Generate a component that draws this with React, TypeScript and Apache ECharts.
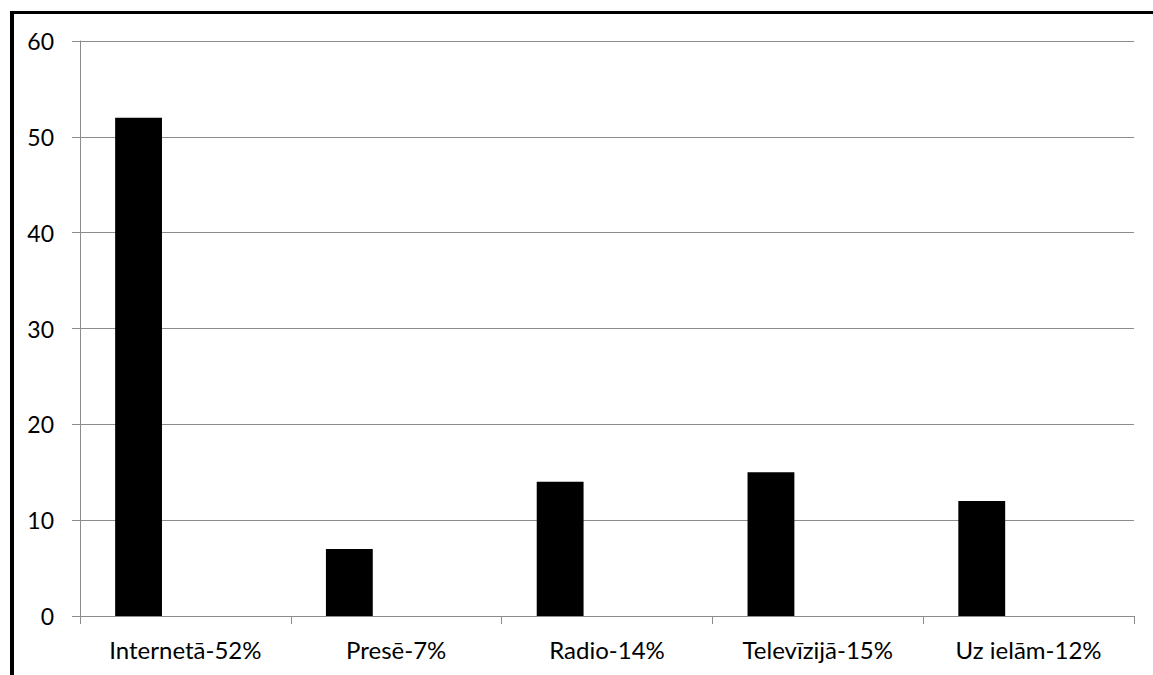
import React, { useEffect, useRef } from "react";
import * as echarts from "echarts";

const categories = ["Internetā-52%", "Presē-7%", "Radio-14%", "Televīzijā-15%", "Uz ielām-12%"];
const values = [52, 7, 14, 15, 12];
const emptyA: number[] = [];
const emptyB: number[] = [];
const yTicks = { min: 0, max: 60, interval: 10 };

export default function App() {
  const ref = useRef<HTMLDivElement>(null);
  useEffect(() => {
    if (!ref.current) return;
    const chart = echarts.init(ref.current, null, { renderer: "svg" });
    const gridColor = "#8c8c8c";
    const font = "Lato, 'Open Sans', sans-serif";
    chart.setOption({
      animation: false,
      backgroundColor: "#ffffff",
      grid: { left: 80, top: 41, right: 19, bottom: 59, containLabel: false },
      xAxis: {
        type: "category",
        data: categories,
        axisLine: { lineStyle: { color: gridColor, width: 1 } },
        axisTick: { show: true, length: 8, lineStyle: { color: gridColor } },
        axisLabel: { color: "#000", fontSize: 24, fontFamily: font, margin: 21 },
      },
      yAxis: {
        type: "value",
        min: yTicks.min,
        max: yTicks.max,
        interval: yTicks.interval,
        axisLine: { show: true, lineStyle: { color: gridColor, width: 1 } },
        axisTick: { show: true, length: 8, lineStyle: { color: gridColor } },
        splitLine: { show: true, lineStyle: { color: gridColor, width: 1 } },
        axisLabel: { color: "#000", fontSize: 23, fontFamily: font, margin: 26 },
      },
      series: [
        { type: "bar", data: values, itemStyle: { color: "#000" }, barGap: "0%", barCategoryGap: "33.33%" },
        { type: "bar", data: emptyA, itemStyle: { color: "#000" } },
        { type: "bar", data: emptyB, itemStyle: { color: "#000" } },
      ],
      graphic: [
        { type: "line", shape: { x1: 12, y1: 11, x2: 12, y2: 675 }, style: { stroke: "#000", lineWidth: 4 } },
        { type: "line", shape: { x1: 10, y1: 12.5, x2: 1153, y2: 12.5 }, style: { stroke: "#000", lineWidth: 3 } },
      ],
    });
    return () => chart.dispose();
  }, []);
  return <div ref={ref} style={{ position: "fixed", left: 0, top: 0, width: 1153, height: 675 }} />;
}
